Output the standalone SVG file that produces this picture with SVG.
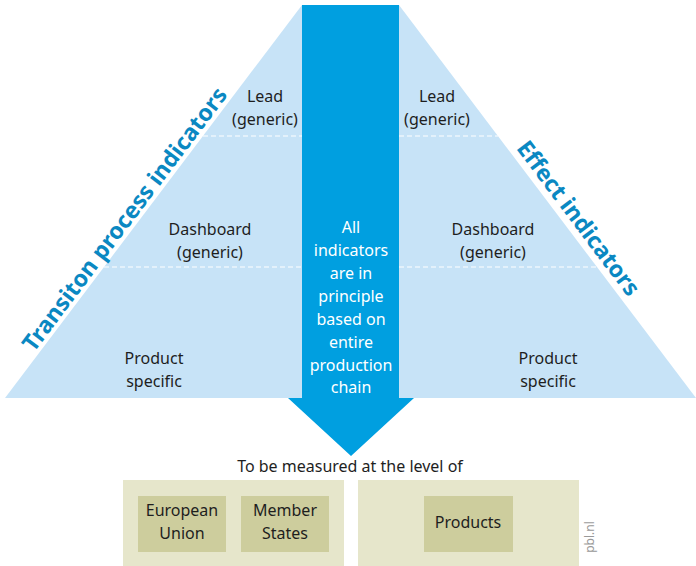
<svg xmlns="http://www.w3.org/2000/svg" width="696" height="566" viewBox="0 0 696 566">
<style>
.t{font-family:"Noto Sans","Liberation Sans",sans-serif;font-size:16px;fill:#1e1e1e;text-anchor:middle}
.w{font-family:"Noto Sans","Liberation Sans",sans-serif;font-size:16px;fill:#fff;text-anchor:middle}
.h{font-family:"Noto Sans","Liberation Sans",sans-serif;font-size:23px;font-weight:bold;fill:#0a88c2;text-anchor:middle}
.dash{stroke:#fff;stroke-width:1;stroke-dasharray:5,3;fill:none}
.outer{fill:#e6e6cb}
.inner{fill:#cdcd9d}
</style>
<rect width="696" height="566" fill="#fff"/>
<g id="pyramid">
<polygon points="302,5 399,5 696,398 5,398" fill="#c7e3f7"/>
<line class="dash" x1="203" y1="136" x2="302" y2="136"/>
<line class="dash" x1="399" y1="136" x2="498" y2="136"/>
<line class="dash" x1="104" y1="267" x2="302" y2="267"/>
<line class="dash" x1="399" y1="267" x2="597" y2="267"/>
</g>
<g id="arrow">
<polygon points="302,5 399,5 399,398 414,398 351,456 288,398 302,398" fill="#009fe0"/>
<text class="w" x="351" y="233">All</text>
<text class="w" x="351" y="256">indicators</text>
<text class="w" x="351" y="279">are in</text>
<text class="w" x="351" y="302">principle</text>
<text class="w" x="351" y="325">based on</text>
<text class="w" x="351" y="348">entire</text>
<text class="w" x="351" y="371">production</text>
<text class="w" x="351" y="393">chain</text>
</g>
<g id="left-labels">
<text class="t" x="265" y="102">Lead</text>
<text class="t" x="265" y="125">(generic)</text>
<text class="t" x="210" y="235">Dashboard</text>
<text class="t" x="210" y="258">(generic)</text>
<text class="t" x="154" y="364">Product</text>
<text class="t" x="154" y="387">specific</text>
</g>
<g id="right-labels">
<text class="t" x="437" y="102">Lead</text>
<text class="t" x="437" y="125">(generic)</text>
<text class="t" x="493" y="235">Dashboard</text>
<text class="t" x="493" y="258">(generic)</text>
<text class="t" x="548" y="364">Product</text>
<text class="t" x="548" y="387">specific</text>
</g>
<g id="side-titles">
<text class="h" transform="translate(131,224) rotate(-53)">Transiton process indicators</text>
<text class="h" transform="translate(572,223) rotate(53)">Effect indicators</text>
</g>
<g id="levels">
<text class="t" x="350" y="472">To be measured at the level of</text>
<rect class="outer" x="123" y="480" width="221" height="86"/>
<rect class="outer" x="358" y="480" width="221" height="86"/>
<g id="eu"><rect class="inner" x="138" y="496" width="88" height="56"/>
<text class="t" x="182" y="516">European</text><text class="t" x="182" y="539">Union</text></g>
<g id="ms"><rect class="inner" x="241" y="496" width="88" height="56"/>
<text class="t" x="285" y="516">Member</text><text class="t" x="285" y="539">States</text></g>
<g id="products"><rect class="inner" x="424" y="496" width="89" height="56"/>
<text class="t" x="468" y="528">Products</text></g>
</g>
<text x="594" y="537" transform="rotate(-90 594 537)" font-family="'Noto Sans','Liberation Sans',sans-serif" font-size="12" fill="#999" text-anchor="middle">pbl.nl</text>
</svg>
